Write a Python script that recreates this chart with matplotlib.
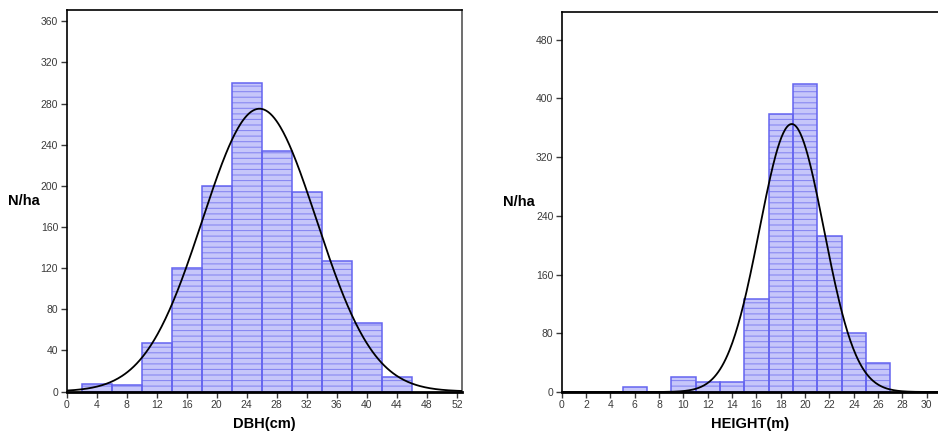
import numpy as np
import matplotlib.pyplot as plt

plt.rcParams['font.family'] = ['Liberation Sans', 'DejaVu Sans']
plt.rcParams['hatch.linewidth'] = 0.8

# --- data: stand table, trees per hectare by class ---
dbh_edges = [2, 6, 10, 14, 18, 22, 26, 30, 34, 38, 42, 46]
dbh_counts = [7, 6.5, 47, 120, 200, 300, 234, 194, 127, 67, 14]
dbh_mean, dbh_sd, dbh_peak = 25.7, 7.6, 275

height_edges = [5, 7, 9, 11, 13, 15, 17, 19, 21, 23, 25, 27]
height_counts = [7, 0, 20, 13, 13, 126, 379, 420, 213, 80, 40]
height_mean, height_sd, height_peak = 18.9, 2.65, 365

dbh_ticks = list(range(0, 53, 4))
dbh_yticks = list(range(0, 361, 40))
height_ticks = list(range(0, 31, 2))
height_yticks = list(range(0, 481, 80))

BAR_EDGE = '#6464f0'
BAR_FACE = '#c6c6fa'
HATCH_COLOR = '#8888f2'
TICK_COLOR = '#3a3a3a'


def draw_hist(ax, edges, counts, mean, sd, peak, xlim, ylim, xticks, yticks, xlabel):
    edges = np.asarray(edges, dtype=float)
    counts = np.asarray(counts, dtype=float)
    widths = np.diff(edges)
    keep = counts > 0
    left, h, w = edges[:-1][keep], counts[keep], widths[keep]
    # patterned fill, then the bar outlines on top
    ax.bar(left, h, width=w, align='edge', color=BAR_FACE,
           edgecolor=HATCH_COLOR, linewidth=0, hatch='---', zorder=2)
    ax.bar(left, h, width=w, align='edge', fill=False,
           edgecolor=BAR_EDGE, linewidth=1.1, zorder=2.5)

    # fitted normal curve
    xs = np.linspace(xlim[0], xlim[1], 400)
    ys = peak * np.exp(-0.5 * ((xs - mean) / sd) ** 2)
    ax.plot(xs, ys, color='black', linewidth=1.3, zorder=3)

    ax.set_xlim(*xlim)
    ax.set_ylim(*ylim)
    ax.set_xticks(xticks)
    ax.set_yticks(yticks)
    ax.tick_params(axis='both', direction='out', length=4, width=1,
                   colors=TICK_COLOR, labelsize=7.5, pad=2)
    ax.set_xlabel(xlabel, fontsize=10.5, fontweight='bold', labelpad=5)
    ax.set_ylabel('N/ha', fontsize=10.5, fontweight='bold', rotation=0,
                  labelpad=12, va='center')
    for side in ['left', 'top']:
        ax.spines[side].set_linewidth(1.2)
    ax.spines['bottom'].set_linewidth(2.0)
    ax.spines['right'].set_linewidth(1.2)
    ax.spines['right'].set_color('#555555')


fig = plt.figure(figsize=(9.38, 4.32), dpi=100)

ax1 = fig.add_axes([66.5 / 938, 40.5 / 432, 395 / 938, 381.5 / 432])
draw_hist(ax1, dbh_edges, dbh_counts, dbh_mean, dbh_sd, dbh_peak,
          (0, 52.6), (0, 371), dbh_ticks, dbh_yticks, 'DBH(cm)')

ax2 = fig.add_axes([561.7 / 938, 40 / 432, 1 - 561.7 / 938, 380.3 / 432])
draw_hist(ax2, height_edges, height_counts, height_mean, height_sd, height_peak,
          (0, 30.92), (0, 518), height_ticks, height_yticks, 'HEIGHT(m)')
ax2.spines['right'].set_visible(False)

fig.savefig('out.png', dpi=100)
